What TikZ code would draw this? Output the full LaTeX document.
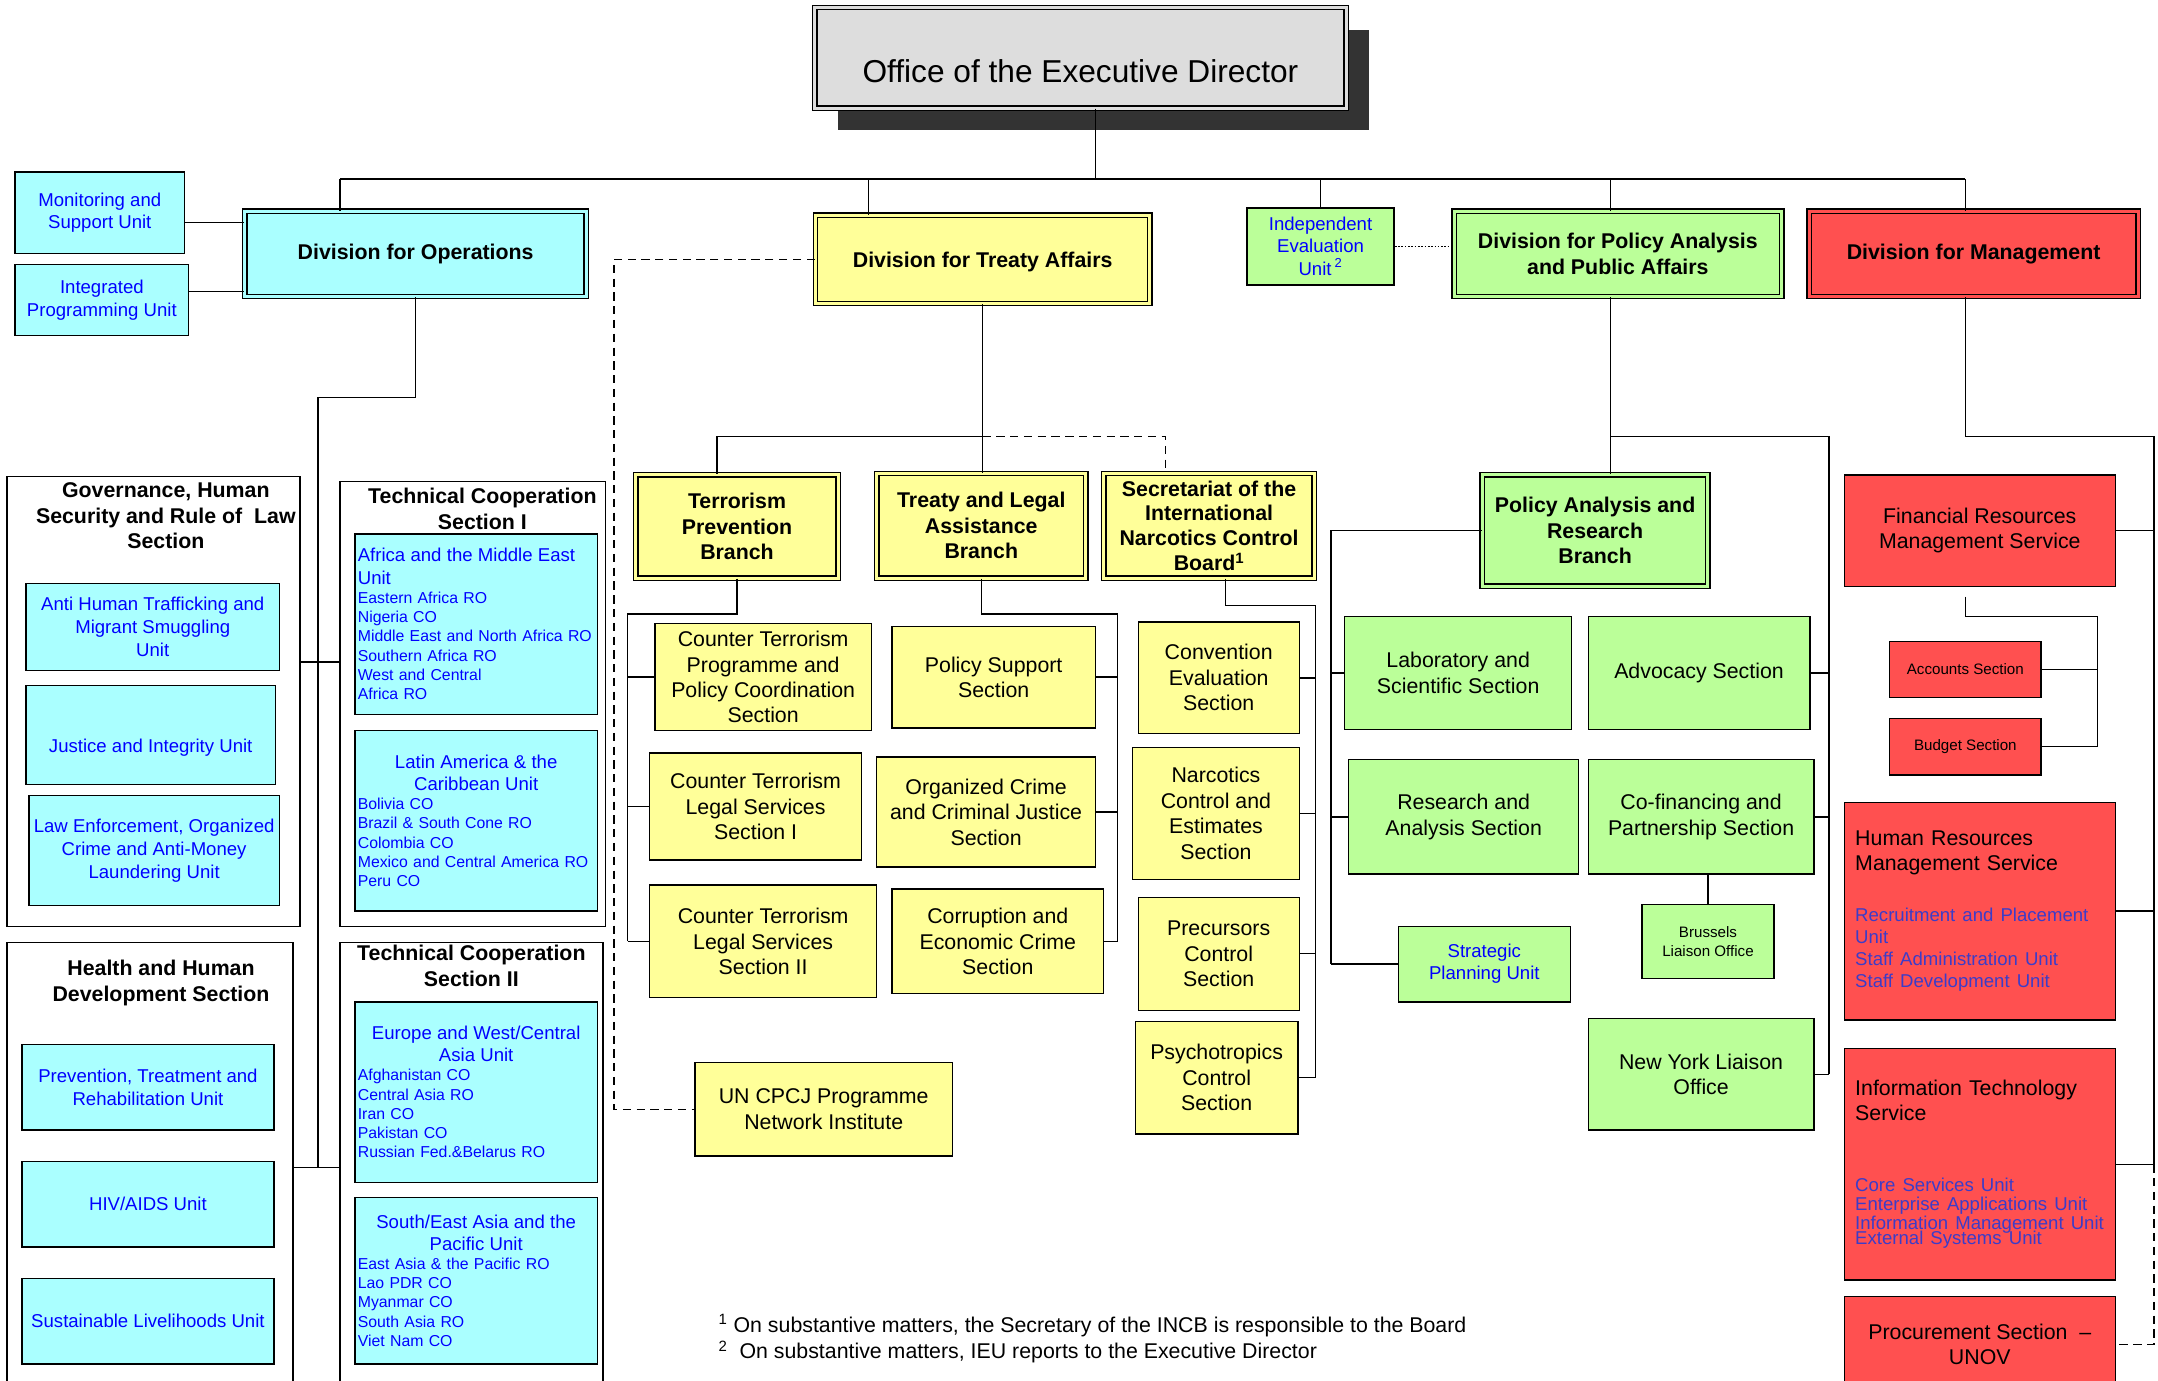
\documentclass[tikz,border=0pt]{standalone}
\usepackage{fontspec}
\setmainfont{Liberation Sans}
\usetikzlibrary{positioning,shadows}

\definecolor{unitcyan}{HTML}{AAFFFF}
\definecolor{treatyyellow}{HTML}{FFFF99}
\definecolor{policygreen}{HTML}{BBFF99}
\definecolor{mgmtred}{HTML}{FF5050}
\definecolor{edgray}{HTML}{DDDDDD}
\definecolor{edshadow}{HTML}{333333}
\definecolor{unitblue}{HTML}{0000FF}
\definecolor{listblue}{HTML}{3C3CC8}

\tikzset{
  dims/.style 2 args={minimum width=#1pt, minimum height=#2pt},
  orgbox/.style={rectangle, draw, line width=1pt, inner sep=2pt, align=center,
    font=\fontsize{15.5}{18.5}\selectfont},
  divbox/.style={orgbox, fill=#1, double=#1, double distance=2.2pt,
    font=\bfseries\fontsize{15.5}{18.5}\selectfont},
  ybox/.style={orgbox, fill=treatyyellow},
  gbox/.style={orgbox, fill=policygreen},
  rbox/.style={orgbox, fill=mgmtred},
  cbox/.style={orgbox, fill=unitcyan, text=unitblue, font=\fontsize{13.5}{16.5}\selectfont},
  lbox/.style={cbox, align=left, text width=172pt, inner sep=2pt, font=\fontsize{11.5}{14}\selectfont},
  groupbox/.style={rectangle, draw, line width=1pt, fill=white},
  grouptitle/.style={anchor=north, align=center, inner sep=2pt, font=\bfseries\fontsize{15.5}{18.5}\selectfont},
  link/.style={line width=1pt},
  dashlink/.style={link, dash pattern=on 6pt off 4pt},
  dotlink/.style={link, dash pattern=on 1.2pt off 1.2pt}
}

\begin{document}
\begin{tikzpicture}[x=1pt, y=-1pt]
  \useasboundingbox (0,0) rectangle (1568,1003);
  \clip (0,0) rectangle (1568,1003);

  % Executive office and divisions
  \node[divbox=edgray, dims={386}{73}, font=\fontsize{23}{27}\selectfont,
        drop shadow={shadow xshift=17pt, shadow yshift=-16pt, fill=edshadow, opacity=1}] (ed) at (785,42) {\raisebox{-10pt}[\height][\depth]{Office of the Executive Director}};
  \node[divbox=unitcyan, dims={248}{62}] (opsdiv) at (302,184.5) {Division for Operations};
  \node[divbox=treatyyellow, dims={243}{64}] (tdiv) at (714,188.5) {\raisebox{-2pt}[\height][\depth]{Division for Treaty Affairs}};
  \node[gbox, dims={107}{56}, text=unitblue, font=\fontsize{13.5}{16}\selectfont] (ieu) at (959.5,179) {Independent\\ Evaluation\\ Unit\,\textsuperscript{2}};
  \node[divbox=policygreen, dims={238}{62}] (pdiv) at (1175.5,184.5) {Division for Policy Analysis\\ and Public Affairs};
  \node[divbox=mgmtred, dims={239}{62}] (mdiv) at (1434,184.5) {Division for Management};

  % Top level lines
  \coordinate (busL) at (247,130);
  \coordinate (busR) at (1428,130);
  \coordinate (edbus) at (796,130);
  \coordinate (tdrop) at (631,130);
  \coordinate (pdrop) at (1170,130);
  \draw[link] (busL) -- (busR);
  \draw[link] (edbus |- ed.south) -- (edbus);
  \draw[link] (busL) -- (busL |- opsdiv.north);
  \draw[link] (tdrop) -- (tdrop |- tdiv.north);
  \draw[link] (ieu.north |- busL) -- (ieu.north);
  \draw[link] (pdrop) -- (pdrop |- pdiv.north);
  \draw[link] (busR) -- (busR |- mdiv.north);
  \draw[dotlink] (ieu.east) -- (ieu.east -| pdiv.west);

  % Operations
  \node[cbox, dims={123}{59}] (msu) at (72.5,154.5) {Monitoring and\\ Support Unit};
  \node[cbox, dims={126}{52}] (ipu) at (74,218) {Integrated\\ Programming Unit};
  \draw[link] ([yshift=-7pt]msu.east) -- ([yshift=-7pt]msu.east -| opsdiv.west);
  \draw[link] ([yshift=6pt]ipu.east) -- ([yshift=6pt]ipu.east -| opsdiv.west);

  \node[groupbox, dims={213}{327}] (gov) at (111.5,509.5) {};
  \node[grouptitle] (govtitle) at ([xshift=9pt, yshift=-3pt]gov.north) {Governance, Human\\ Security and Rule of\ \ Law\\ Section};
  \node[cbox, dims={184}{63}] (ahtu) at (111,455.5) {Anti Human Trafficking and\\ Migrant Smuggling\\ Unit};
  \node[cbox, dims={181}{72}] (jiu) at (109.5,534) {\raisebox{-9pt}[\height][\depth]{Justice and Integrity Unit}};
  \node[cbox, dims={182}{80}] (leu) at (112,618) {Law Enforcement, Organized\\ Crime and Anti-Money\\ Laundering Unit};

  \node[groupbox, dims={193}{323}] (tc1) at (343.5,511.5) {};
  \node[grouptitle] (tc1title) at ([xshift=7pt, yshift=-3pt]tc1.north) {Technical Cooperation\\ Section I};
  \node[lbox, dims={176}{131}] (amu) at (346,453.5) {{\fontsize{13.5}{16}\selectfont Africa and the Middle East\\ Unit\par}Eastern Africa RO\\ Nigeria CO\\ Middle East and North Africa RO\\ Southern Africa RO\\ West and Central\\ Africa RO};
  \node[lbox, dims={176}{131}] (lacu) at (346,596.5) {{\centering\fontsize{13.5}{16}\selectfont Latin America \& the\\ Caribbean Unit\par}Bolivia CO\\ Brazil \& South Cone RO\\ Colombia CO\\ Mexico and Central America RO\\ Peru CO};

  \node[groupbox, dims={208}{327}] (health) at (109,848.5) {};
  \node[grouptitle] (healthtitle) at ([xshift=8pt, yshift=-11pt]health.north) {Health and Human\\ Development Section};
  \node[cbox, dims={183}{62}] (ptru) at (107.5,790) {Prevention, Treatment and\\ Rehabilitation Unit};
  \node[cbox, dims={183}{62}] (hivu) at (107.5,875) {HIV/AIDS Unit};
  \node[cbox, dims={183}{62}] (slu) at (107.5,960) {Sustainable Livelihoods Unit};

  \node[groupbox, dims={191}{327}] (tc2) at (342.5,848.5) {};
  \node[grouptitle] (tc2title) at (tc2.north) {Technical Cooperation\\ Section II};
  \node[lbox, dims={176}{131}] (ewcau) at (346,793.5) {{\centering\fontsize{13.5}{16}\selectfont Europe and West/Central\\ Asia Unit\par}Afghanistan CO\\ Central Asia RO\\ Iran CO\\ Pakistan CO\\ Russian Fed.\&Belarus RO};
  \node[lbox, dims={176}{121}] (seapu) at (346,930.5) {{\centering\fontsize{13.5}{16}\selectfont South/East Asia and the\\ Pacific Unit\par}East Asia \& the Pacific RO\\ Lao PDR CO\\ Myanmar CO\\ South Asia RO\\ Viet Nam CO};

  \coordinate (opsbend) at (231,289);
  \coordinate (govlink) at (231,481);
  \draw[link] (opsdiv.south) |- (opsbend) -- (opsbend |- health.east);
  \draw[link] (govlink -| gov.east) -- (govlink -| tc1.west);
  \draw[link] (health.east) -- (tc2.west);

  % Treaty Affairs
  \node[divbox=treatyyellow, dims={147}{75}] (tpb) at (535.5,382.5) {Terrorism\\ Prevention\\ Branch};
  \node[divbox=treatyyellow, dims={152}{76}] (tlab) at (713,382) {Treaty and Legal\\ Assistance\\ Branch};
  \node[divbox=treatyyellow, dims={153}{76}, font=\bfseries\fontsize{15.5}{18}\selectfont] (incb) at (878.5,382) {Secretariat of the\\ International\\ Narcotics Control\\ Board\textsuperscript{1}};

  \node[ybox, dims={157}{78}] (ctppc) at (554.5,492) {Counter Terrorism\\ Programme and\\ Policy Coordination\\ Section};
  \node[ybox, dims={154}{78}] (ctls1) at (549,586) {Counter Terrorism\\ Legal Services\\ Section I};
  \node[ybox, dims={165}{82}] (ctls2) at (554.5,684) {Counter Terrorism\\ Legal Services\\ Section II};
  \node[ybox, dims={148}{74}] (pss) at (722,492) {Policy Support\\ Section};
  \node[ybox, dims={159}{80}] (occj) at (716.5,590) {Organized Crime\\ and Criminal Justice\\ Section};
  \node[ybox, dims={154}{76}] (cecs) at (725,684) {Corruption and\\ Economic Crime\\ Section};
  \node[ybox, dims={117}{81}] (ces) at (885.5,492.5) {Convention\\ Evaluation\\ Section};
  \node[ybox, dims={121}{96}] (ncess) at (883.5,591) {Narcotics\\ Control and\\ Estimates\\ Section};
  \node[ybox, dims={117}{82}] (pcs) at (885.5,693) {Precursors\\ Control\\ Section};
  \node[ybox, dims={118}{82}] (psycs) at (884,783) {Psychotropics\\ Control\\ Section};
  \node[ybox, dims={187}{68}] (cpcj) at (598.5,806) {UN CPCJ Programme\\ Network Institute};

  \coordinate (tbus) at (714,317);
  \coordinate (tbusL) at (521,317);
  \coordinate (tbusR) at (847,317);
  \draw[link] (tdiv.south) -- (tdiv.south |- tlab.north);
  \draw[link] (tbus) -- (tbusL) -- (tbusL |- tpb.north);
  \draw[dashlink] (tbus) -- (tbusR) -- (tbusR |- incb.north);

  \coordinate (dashX) at (446,300);
  \draw[dashlink] (tdiv.west) -| (dashX) |- (cpcj.west);

  \coordinate (tpbbus) at (456,446);
  \draw[link] (tpb.south) |- (tpbbus) -- (tpbbus |- ctls2.west);
  \draw[link] (tpbbus |- ctppc.west) -- (ctppc.west);
  \draw[link] (tpbbus |- ctls1.west) -- (ctls1.west);
  \draw[link] (tpbbus |- ctls2.west) -- (ctls2.west);

  \coordinate (tlabbus) at (812,446);
  \draw[link] (tlab.south) |- (tlabbus) -- (tlabbus |- cecs.east);
  \draw[link] (pss.east) -- (pss.east -| tlabbus);
  \draw[link] (occj.east) -- (occj.east -| tlabbus);
  \draw[link] (cecs.east) -- (cecs.east -| tlabbus);

  \coordinate (incbbus) at (956,440);
  \draw[link] ([xshift=12pt]incb.south) |- (incbbus) -- (incbbus |- psycs.east);
  \draw[link] (ces.east) -- (ces.east -| incbbus);
  \draw[link] (ncess.east) -- (ncess.east -| incbbus);
  \draw[link] (pcs.east) -- (pcs.east -| incbbus);
  \draw[link] (psycs.east) -- (psycs.east -| incbbus);

  % Policy Analysis and Public Affairs
  \node[divbox=policygreen, dims={164}{81}] (parb) at (1159,385.5) {Policy Analysis and\\ Research\\ Branch};
  \node[gbox, dims={165}{82}] (lss) at (1059.5,489) {Laboratory and\\ Scientific Section};
  \node[gbox, dims={161}{82}] (advs) at (1234.5,489) {Advocacy Section};
  \node[gbox, dims={167}{83}] (ras) at (1063.5,593.5) {Research and\\ Analysis Section};
  \node[gbox, dims={164}{83}] (cfps) at (1236,593.5) {Co-financing and\\ Partnership Section};
  \node[gbox, dims={96}{54}, font=\fontsize{11}{14}\selectfont] (blo) at (1241,684) {Brussels\\ Liaison Office};
  \node[gbox, dims={125}{55}, text=unitblue, font=\fontsize{13.5}{16}\selectfont] (spu) at (1078.5,700.5) {Strategic\\ Planning Unit};
  \node[gbox, dims={164}{81}] (nylo) at (1236,780.5) {New York Liaison\\ Office};

  \draw[link] (pdrop |- pdiv.south) -- (pdrop |- parb.north);
  \coordinate (pbus) at (1329,317);
  \draw[link] (pdrop |- pbus) -- (pbus) -- (pbus |- nylo.east);
  \draw[link] (advs.east) -- (advs.east -| pbus);
  \draw[link] (cfps.east) -- (cfps.east -| pbus);
  \draw[link] (nylo.east) -- (nylo.east -| pbus);
  \coordinate (parbbus) at (967,385.5);
  \draw[link] (parb.west) -- (parbbus) -- (parbbus |- spu.west);
  \draw[link] (lss.west -| parbbus) -- (lss.west);
  \draw[link] (ras.west -| parbbus) -- (ras.west);
  \draw[link] (spu.west -| parbbus) -- (spu.west);
  \draw[link] (cfps.south -| blo.north) -- (blo.north);

  % Management
  \node[rbox, dims={197}{81}] (frms) at (1438.5,385.5) {Financial Resources\\ Management Service};
  \node[rbox, dims={110}{41}, font=\fontsize{11}{13}\selectfont] (acct) at (1428,486.5) {Accounts Section};
  \node[rbox, dims={110}{41}, font=\fontsize{11}{13}\selectfont] (bdgt) at (1428,542.5) {Budget Section};
  \node[rbox, dims={197}{158}, align=left, text width=181pt, inner xsep=8pt] (hrms) at (1438.5,662) {Human Resources\\ Management Service\par\vspace{21pt}{\color{listblue}\fontsize{13.5}{16}\selectfont Recruitment and Placement\\ Unit\\ Staff Administration Unit\\ Staff Development Unit\par}};
  \node[rbox, dims={197}{168}, align=left, text width=181pt, inner xsep=8pt] (its) at (1438.5,846) {Information Technology\\ Service\par\vspace{37pt}{\color{listblue}\fontsize{13.5}{14}\selectfont Core Services Unit\\ Enterprise Applications Unit\\ Information Management Unit\\[-3pt] External Systems Unit\par}};
  \node[rbox, dims={197}{70}] (prs) at (1438.5,977) {Procurement Section\ \ --\\ UNOV};

  \coordinate (mbus) at (1565,317);
  \draw[link] (busR |- mdiv.south) |- (mbus) -- (mbus |- its.east);
  \draw[dashlink] (mbus |- its.east) |- (prs.east);
  \draw[link] (frms.east) -- (frms.east -| mbus);
  \draw[link] (hrms.east) -- (hrms.east -| mbus);
  \draw[link] (its.east) -- (its.east -| mbus);
  \coordinate (fbus) at (1524,448);
  \draw[link] ([yshift=-7pt]frms.south -| acct.north) |- (fbus) -- (fbus |- bdgt.east);
  \draw[link] (acct.east) -- (acct.east -| fbus);
  \draw[link] (bdgt.east) -- (bdgt.east -| fbus);

  % Footnotes
  \node[anchor=north west, align=left, inner sep=0pt, font=\fontsize{15.5}{19}\selectfont] (notes) at (522,955) {\textsuperscript{1} On substantive matters, the Secretary of the INCB is responsible to the Board\\ \textsuperscript{2}\ \ On substantive matters, IEU reports to the Executive Director};
\end{tikzpicture}
\end{document}
